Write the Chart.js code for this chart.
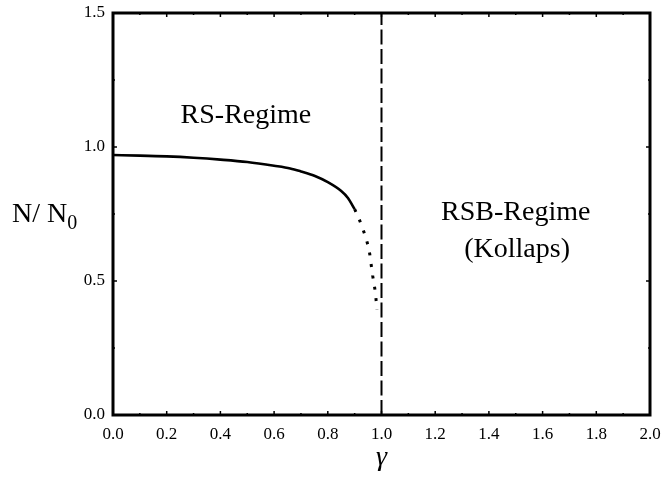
<!DOCTYPE html>
<html>
<head>
<meta charset="utf-8">
<script src="https://cdn.jsdelivr.net/npm/chart.js@4/dist/chart.umd.min.js"></script>
<style>
  html, body { margin: 0; padding: 0; background: #fff; }
  #wrap { width: 662px; height: 478px; }
</style>
</head>
<body>
<div id="wrap"><canvas id="c" width="662" height="478"></canvas></div>
<script>
// solid part of the curve (RS regime)
const gammaSolid = [0, 0.1, 0.2, 0.3, 0.4, 0.5, 0.6, 0.66, 0.7, 0.75, 0.8, 0.85, 0.875, 0.9];
const nSolid = [0.970, 0.968, 0.965, 0.960, 0.953, 0.944, 0.930, 0.920, 0.909, 0.893, 0.869, 0.836, 0.810, 0.768];
// dotted continuation
const gammaDotted = [0.9, 0.917, 0.932, 0.945, 0.955, 0.961, 0.967, 0.974, 0.979, 0.983];
const nDotted = [0.768, 0.730, 0.690, 0.650, 0.608, 0.565, 0.521, 0.479, 0.438, 0.392];
// critical gamma (dashed vertical line)
const gammaCrit = [1, 1];
const nCrit = [0, 1.5];

const xTicks = [0.0, 0.2, 0.4, 0.6, 0.8, 1.0, 1.2, 1.4, 1.6, 1.8, 2.0];
const yTicks = [0.0, 0.5, 1.0, 1.5];

const serif = "'Liberation Serif', 'DejaVu Serif', serif";

function pts(xs, ys) {
  return xs.map((x, i) => ({ x: x, y: ys[i] }));
}

function isMajor(v, list) {
  return list.some(t => Math.abs(t - v) < 1e-6);
}

const frame = {
  id: 'frame',
  afterDraw(chart) {
    const ctx = chart.ctx;
    const a = chart.chartArea;
    const xs = chart.scales.x, ys = chart.scales.y;
    ctx.save();
    ctx.strokeStyle = '#000';
    ctx.lineWidth = 3;
    ctx.strokeRect(a.left, a.top, a.right - a.left, a.bottom - a.top);

    // inward ticks
    ctx.lineWidth = 1.5;
    xs.ticks.forEach(t => {
      const px = xs.getPixelForValue(t.value);
      const len = isMajor(t.value, xTicks) ? 4 : 2;
      ctx.beginPath();
      ctx.moveTo(px, a.bottom); ctx.lineTo(px, a.bottom - len);
      ctx.moveTo(px, a.top); ctx.lineTo(px, a.top + len);
      ctx.stroke();
    });
    ys.ticks.forEach(t => {
      const py = ys.getPixelForValue(t.value);
      const len = isMajor(t.value, yTicks) ? 4 : 2;
      ctx.beginPath();
      ctx.moveTo(a.left, py); ctx.lineTo(a.left + len, py);
      ctx.moveTo(a.right, py); ctx.lineTo(a.right - len, py);
      ctx.stroke();
    });

    // annotations
    ctx.fillStyle = '#000';
    ctx.textAlign = 'center';
    ctx.textBaseline = 'middle';
    ctx.font = '28px ' + serif;
    ctx.fillText('RS-Regime', xs.getPixelForValue(0.495), ys.getPixelForValue(1.116));
    ctx.fillText('RSB-Regime', xs.getPixelForValue(1.5), ys.getPixelForValue(0.754));
    ctx.fillText('(Kollaps)', xs.getPixelForValue(1.505), ys.getPixelForValue(0.616));

    // axis titles
    ctx.textAlign = 'left';
    ctx.fillText('N/ N', 12, 215);
    const w = ctx.measureText('N/ N').width;
    ctx.font = '20px ' + serif;
    ctx.fillText('0', 12 + w, 224);

    ctx.textAlign = 'center';
    ctx.font = 'italic 28px ' + serif;
    ctx.fillText('\u03b3', xs.getPixelForValue(1.0), 458);
    ctx.restore();
  }
};

new Chart(document.getElementById('c'), {
  type: 'line',
  data: {
    datasets: [
      {
        data: pts(gammaSolid, nSolid),
        borderColor: '#000',
        borderWidth: 2.6,
        pointRadius: 0,
        cubicInterpolationMode: 'monotone',
        fill: false
      },
      {
        data: pts(gammaDotted, nDotted),
        borderColor: '#000',
        borderWidth: 3,
        borderDash: [3, 8.5],
        pointRadius: 0,
        cubicInterpolationMode: 'monotone',
        fill: false
      },
      {
        data: pts(gammaCrit, nCrit),
        borderColor: '#000',
        borderWidth: 2,
        borderDash: [15, 4.5],
        pointRadius: 0,
        fill: false
      }
    ]
  },
  options: {
    responsive: false,
    animation: false,
    layout: { padding: { top: 13, right: 12, left: 0, bottom: 0 } },
    plugins: { legend: { display: false }, tooltip: { enabled: false } },
    scales: {
      x: {
        type: 'linear',
        min: 0, max: 2,
        grid: { display: false, drawTicks: false },
        border: { display: false },
        ticks: {
          stepSize: 0.1,
          padding: 9,
          maxRotation: 0,
          autoSkip: false,
          color: '#000',
          font: { family: serif, size: 17 },
          callback: v => isMajor(v, xTicks) ? v.toFixed(1) : ''
        },
        afterFit(s) { s.height = 63; s.paddingLeft = 0; s.paddingRight = 0; }
      },
      y: {
        type: 'linear',
        min: 0, max: 1.5,
        grid: { display: false, drawTicks: false },
        border: { display: false },
        ticks: {
          stepSize: 0.25,
          padding: 8,
          autoSkip: false,
          color: '#000',
          font: { family: serif, size: 17 },
          callback: v => isMajor(v, yTicks) ? v.toFixed(1) : ''
        },
        afterFit(s) { s.width = 113; s.paddingTop = 0; s.paddingBottom = 0; }
      }
    }
  },
  plugins: [frame]
});
</script>
</body>
</html>
